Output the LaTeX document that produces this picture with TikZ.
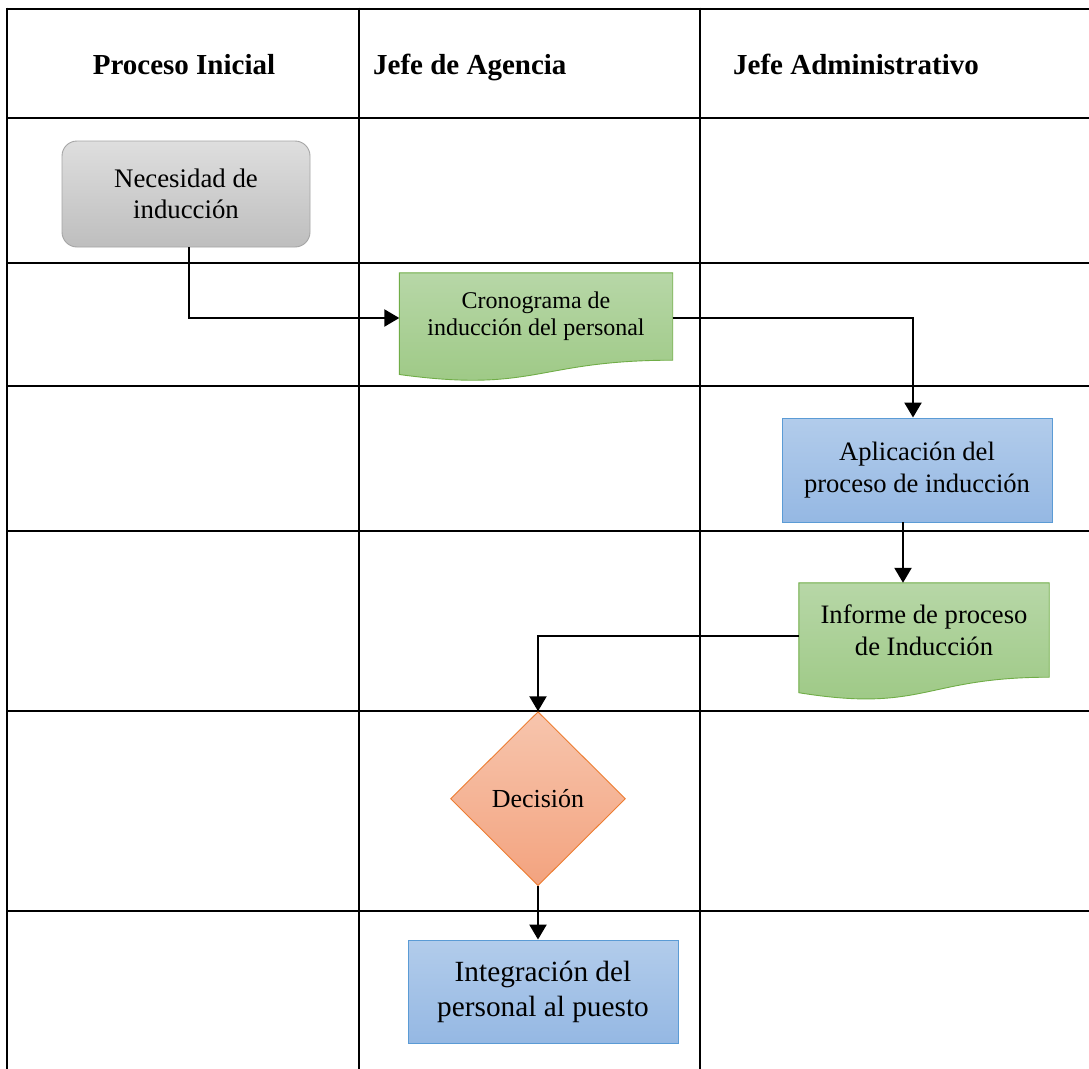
\documentclass[tikz,border=0pt]{standalone}
\usepackage{fontspec}
\setmainfont{Liberation Serif}
\usetikzlibrary{shapes.geometric,arrows.meta,backgrounds,calc}

\definecolor{grayTop}{RGB}{222,222,222}
\definecolor{grayBot}{RGB}{190,190,190}
\definecolor{grayLine}{RGB}{165,165,165}
\definecolor{greenTop}{RGB}{183,215,167}
\definecolor{greenBot}{RGB}{156,200,131}
\definecolor{greenLine}{RGB}{112,173,71}
\definecolor{blueTop}{RGB}{178,204,235}
\definecolor{blueBot}{RGB}{149,184,227}
\definecolor{blueLine}{RGB}{91,155,213}
\definecolor{orangeTop}{RGB}{247,197,173}
\definecolor{orangeBot}{RGB}{243,163,127}
\definecolor{orangeLine}{RGB}{237,125,49}

\tikzset{
  grid/.style={line width=2.6pt, black},
  header/.style={font=\fontsize{29}{34}\selectfont\bfseries, inner sep=0pt},
  boxtext/.style={align=center, inner sep=0pt, text=black},
  startbox/.style={boxtext, rectangle, rounded corners=15pt, draw=grayLine, line width=0.9pt,
    top color=grayTop, bottom color=grayBot},
  taskbox/.style={boxtext, rectangle, draw=blueLine, line width=0.9pt,
    top color=blueTop, bottom color=blueBot},
  docbox/.style={boxtext, rectangle},
  docshade/.style={draw=greenLine, line width=0.9pt, top color=greenTop, bottom color=greenBot},
  decbox/.style={boxtext, diamond, aspect=1, draw=orangeLine, line width=0.9pt,
    top color=orangeTop, bottom color=orangeBot},
  flow/.style={line width=2.3pt, black, -{Triangle[width=17pt,length=15pt]}}
}

\begin{document}
\begin{tikzpicture}[x=1pt, y=-1pt]
\useasboundingbox (0,0) rectangle (1089,1068);
\begin{scope}[on background layer]
  \fill[white] (0,0) rectangle (1089,1068);
\end{scope}

% swimlane grid
\foreach \yy in {9,118,263,386,531,711,911}
  \draw[grid] (7,\yy) -- (1095,\yy);
\foreach \xx in {7,359,700}
  \draw[grid] (\xx,7.7) -- (\xx,1075);

% lane headings
\node[header, anchor=base] (h1) at (184,74) {Proceso Inicial};
\node[header, anchor=base west] (h2) at (373,74) {Jefe de Agencia};
\node[header, anchor=base west] (h3) at (733,74) {Jefe Administrativo};

% flow steps
\node[startbox, minimum width=248pt, minimum height=106pt,
      font=\fontsize{26.8}{31}\selectfont] (nec) at (186,194) {Necesidad de\\inducción};

\node[docbox, minimum width=273pt, minimum height=87pt,
      font=\fontsize{24}{27}\selectfont] (crono) at (536,316.5) {Cronograma de\\inducción del personal};

\node[taskbox, minimum width=270pt, minimum height=104pt,
      font=\fontsize{26.6}{32}\selectfont] (apl) at (917,470) {Aplicación del\\proceso de inducción};

\node[docbox, minimum width=250pt, minimum height=94pt,
      font=\fontsize{26.6}{32}\selectfont] (info) at (924,630) {Informe de proceso\\de Inducción};

\node[decbox, minimum width=175pt, minimum height=174pt,
      font=\fontsize{26}{31}\selectfont] (dec) at (538,798.7) {Decisión};

\node[taskbox, minimum width=270pt, minimum height=103pt,
      font=\fontsize{29.3}{35}\selectfont] (int) at (543,991.5) {Integración del\\personal al puesto};

% document outlines with wavy lower edge
\begin{scope}[on background layer]
  \shade[docshade] (crono.north west) -- (crono.north east) -- (crono.south east)
    .. controls (crono.south) and ($(crono.south)+(0,33)$) .. ($(crono.south west)+(0,14.3)$) -- cycle;
  \shade[docshade] (info.north west) -- (info.north east) -- (info.south east)
    .. controls (info.south) and ($(info.south)+(0,35.8)$) .. ($(info.south west)+(0,15.5)$) -- cycle;
\end{scope}

% connectors
\draw[flow] ([xshift=3pt]nec.south) |- ([yshift=-1.5pt]crono.west);
\draw[flow] ([yshift=-1.5pt]crono.east) -| ([xshift=-4pt]apl.north);
\draw[flow] ([xshift=-14pt]apl.south) -- ([xshift=-14pt]apl.south |- info.north);
\draw[flow] ([yshift=-6pt]info.west) -| (dec.north);
\draw[flow] (dec.south) -- (dec.south |- int.north);
\end{tikzpicture}
\end{document}
